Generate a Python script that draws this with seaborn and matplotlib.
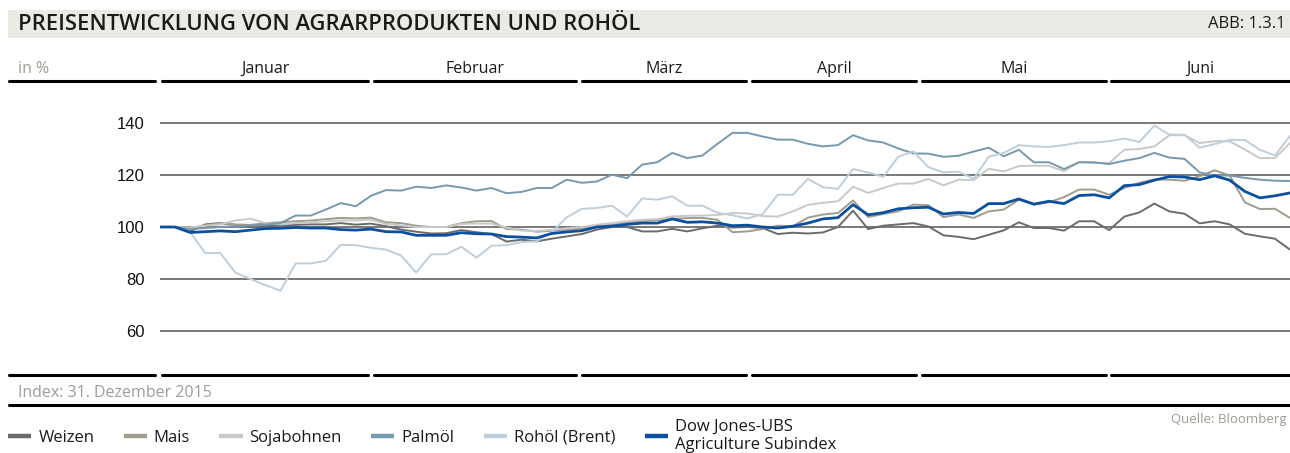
import matplotlib
matplotlib.use("Agg")
import matplotlib.pyplot as plt
from matplotlib.lines import Line2D
from matplotlib.patches import Rectangle
import pandas as pd
import seaborn as sns

# Index 31.12.2015 = 100, ein Wert etwa alle 2-3 Handelstage
serien = ["Weizen", "Mais", "Sojabohnen", "Palmöl", "Rohöl (Brent)",
          "Dow Jones-UBS\nAgriculture Subindex"]
monate = ["Januar", "Februar", "März", "April", "Mai", "Juni"]
y_ticks = [60, 80, 100, 120, 140]

weizen = [100, 100, 98.3, 101, 101.5, 100.8, 100, 100.5, 100.6, 100.8,
          101, 101, 101.5, 100.9, 101.3, 100.3, 99, 98.2, 97.5, 97.6,
          98.8, 98, 97.3, 94.4, 95.1, 94.5, 95.5, 96.4, 97.3, 99,
          100, 100, 98.3, 98.3, 99.3, 98.3, 99.5, 100.5, 99.8, 100,
          99.6, 97.3, 97.8, 97.5, 97.9, 100, 106.3, 99.2, 100.5, 101,
          101.5, 100.2, 96.8, 96.2, 95.3, 97, 98.7, 101.8, 99.6, 99.6,
          98.6, 102.2, 102.2, 98.8, 104, 105.6, 109, 106, 105.1, 101.4,
          102.2, 101, 97.4, 96.4, 95.5, 91.3]
mais = [100, 100, 99.5, 100.6, 101.5, 101, 100.8, 101.5, 101.8, 102.2,
        102.5, 103, 103.5, 103.3, 103.6, 101.8, 101.5, 100.5, 100, 100,
        101.5, 102.2, 102.3, 99.2, 99, 98.2, 98.5, 98.9, 99.5, 100.3,
        100.9, 101.7, 102.2, 102.6, 103.2, 103.4, 103.5, 102.8, 98, 98.3,
        99.2, 100.5, 100.3, 103.6, 104.8, 105.4, 110.2, 103.8, 105, 106,
        108.6, 108.4, 103.8, 104.8, 103.5, 106, 106.7, 110.5, 108.6, 109.5,
        111.5, 114.4, 114.4, 112.4, 115, 117, 118.3, 118.2, 117.8, 119.5,
        121.8, 119.8, 109.5, 106.9, 107, 103.5]
soja = [100, 100, 99.8, 100.5, 101, 102.5, 103.2, 101.5, 101, 101.5,
        101.8, 102.2, 102.5, 102.5, 102.8, 101.2, 100.6, 100, 100, 100,
        101.2, 101.3, 101.3, 99.8, 98.6, 98.5, 98.9, 99.5, 100, 100.9,
        101.5, 102.2, 102.8, 103, 104.1, 104.3, 104.4, 104.6, 105.4, 105.2,
        104.2, 104, 106, 108.5, 109.3, 109.9, 115.5, 113.1, 115, 116.7,
        116.7, 118.5, 116, 118.2, 118, 122.4, 121.4, 123.4, 123.6, 123.5,
        121.5, 125, 124.6, 124.6, 129.7, 130, 131, 135.3, 135.3, 132.3,
        133, 133, 129.8, 126.5, 126.5, 132.3]
palmoel = [100, 100, 99.2, 99.6, 100, 100.3, 100.6, 100.9, 101.5, 104.4,
           104.4, 106.7, 109.2, 108, 112, 114.2, 114, 115.5, 115, 116,
           115.2, 114, 115, 113, 113.5, 115, 115, 118.2, 117, 117.5,
           120.1, 118.8, 124, 124.9, 128.5, 126.5, 127.5, 132, 136.2, 136.2,
           134.8, 133.6, 133.6, 132, 131, 131.5, 135.3, 133.3, 132.5, 130.2,
           128.3, 128.2, 127, 127.4, 129, 130.5, 127.2, 129.7, 124.9, 124.9,
           122.3, 124.9, 124.9, 124.2, 125.5, 126.5, 128.5, 126.7, 126.2, 121,
           119.8, 119.8, 118.9, 118.2, 117.8, 117.7]
rohoel = [100, 100, 98, 90, 90, 82.5, 80, 77.6, 75.5, 86,
          86, 87, 93.2, 93, 92, 91.3, 89, 82.5, 89.5, 89.5,
          92.4, 88.2, 92.8, 93, 94.2, 94.5, 98, 103.7, 107, 107.3,
          108.2, 104, 111, 110.5, 111.8, 108.2, 108.2, 105.5, 104.5, 103.3,
          105, 112.4, 112.4, 118.5, 115.3, 114.7, 122.3, 121, 119.3, 127,
          129.1, 123, 121, 121.3, 118.5, 127, 128.5, 131.5, 131, 130.8,
          131.5, 132.5, 132.5, 133, 134, 132.7, 139, 135.5, 135.5, 130.5,
          131.9, 133.5, 133.5, 129.7, 127.5, 135]
djubs = [100, 100, 97.9, 98.2, 98.5, 98.2, 98.8, 99.4, 99.5, 99.8,
         99.6, 99.6, 99, 98.8, 99.2, 98.2, 98.1, 96.8, 96.8, 96.8,
         97.8, 97.4, 97.3, 96.3, 96.1, 95.8, 97.5, 98.1, 98.6, 100,
         100.3, 101, 101.5, 101.5, 103.1, 101.8, 102, 101.5, 100.5, 100.7,
         100, 99.6, 100.3, 101.5, 103.1, 103.6, 108.6, 104.7, 105.5, 107,
         107.4, 107.6, 105, 105.6, 105.2, 109, 109, 110.8, 108.8, 109.9,
         109, 112.1, 112.4, 111.2, 115.9, 116.3, 118, 119.4, 119.2, 118.2,
         119.7, 118, 113.7, 111.2, 112, 113.1]

farben = ["#6b6b6b", "#a09d8d", "#c9c9c7", "#7898ae", "#bfcedb", "#0b50a0"]
grau_text = "#9d9d95"

werte = [weizen, mais, soja, palmoel, rohoel, djubs]
df = pd.concat(
    [pd.DataFrame({"tag": range(len(v)), "wert": v, "serie": s}) for s, v in zip(serien, werte)],
    ignore_index=True,
)

sns.set_theme(style="white")
plt.rcParams["font.family"] = ["Open Sans", "DejaVu Sans"]

W, H = 1290, 453
fig = plt.figure(figsize=(W / 100, H / 100), dpi=100)


def fx(px):
    return px / W


def fy(py):
    return 1 - py / H


# Kopfzeile
fig.add_artist(Rectangle((fx(8), fy(38)), fx(1290) - fx(8), 28 / H,
                         transform=fig.transFigure, color="#ebebe6", lw=0))
fig.text(fx(18), fy(24), "PREISENTWICKLUNG VON AGRARPRODUKTEN UND ROHÖL",
         fontsize=15.8, fontweight="semibold", color="#1a1a1a", va="center")
fig.text(fx(1286), fy(24), "ABB: 1.3.1", fontsize=12, color="#1a1a1a",
         va="center", ha="right")

# Monatsspalten oben und unten
spalten = [(162, 368), (374, 576), (582, 746), (752, 916), (922, 1106), (1111, 1290)]
fig.text(fx(18), fy(69), "in %", fontsize=11.5, color=grau_text, va="center")
for y in (81, 375):
    fig.add_artist(Line2D([fx(9), fx(155)], [fy(y), fy(y)], color="black", lw=2.2))
for name, (x0, x1) in zip(monate, spalten):
    fig.text(fx((x0 + x1) / 2), fy(69), name, fontsize=11.5, color="#1a1a1a",
             ha="center", va="center")
    for y in (81, 375):
        fig.add_artist(Line2D([fx(x0), fx(x1)], [fy(y), fy(y)], color="black", lw=2.2))

# Diagramm
ax = fig.add_axes([fx(160), fy(370), (1290 - 160) / W, (370 - 84) / H])
sns.lineplot(data=df, x="tag", y="wert", hue="serie", hue_order=serien,
             palette=farben, linewidth=1.4, legend=False, errorbar=None,
             estimator=None, ax=ax)
ax.lines[-1].set_linewidth(2.0)

ax.set_xlim(0, len(weizen) - 1)
ax.set_ylim(45, 155)
ax.set_yticks(y_ticks)
ax.set_xticks([])
ax.set_xlabel("")
ax.set_ylabel("")
ax.set_axisbelow(True)
ax.yaxis.grid(True, color="#6e6e6e", lw=1.3)
ax.tick_params(axis="y", length=0, pad=11, labelsize=12, colors="#111111")
for lab in ax.get_yticklabels():
    lab.set_family(["Liberation Sans", "DejaVu Sans"])
sns.despine(ax=ax, left=True, bottom=True)

# Fußzeile
fig.text(fx(18), fy(393), "Index: 31. Dezember 2015", fontsize=11.5,
         color=grau_text, va="center")
fig.add_artist(Line2D([fx(9), fx(1290)], [fy(405), fy(405)], color="black", lw=2.2))
fig.text(fx(1287), fy(420), "Quelle: Bloomberg", fontsize=9.5,
         color=grau_text, va="center", ha="right")

handles = [Line2D([], [], color=c, lw=3.2, solid_capstyle="butt") for c in farben]
fig.legend(handles, serien, loc="center left", bbox_to_anchor=(fx(8), fy(436)),
           ncol=6, frameon=False, fontsize=12, handlelength=1.4,
           handletextpad=0.42, columnspacing=1.75, borderaxespad=0, borderpad=0,
           labelcolor="#1a1a1a")

fig.savefig("out.png", dpi=100)
